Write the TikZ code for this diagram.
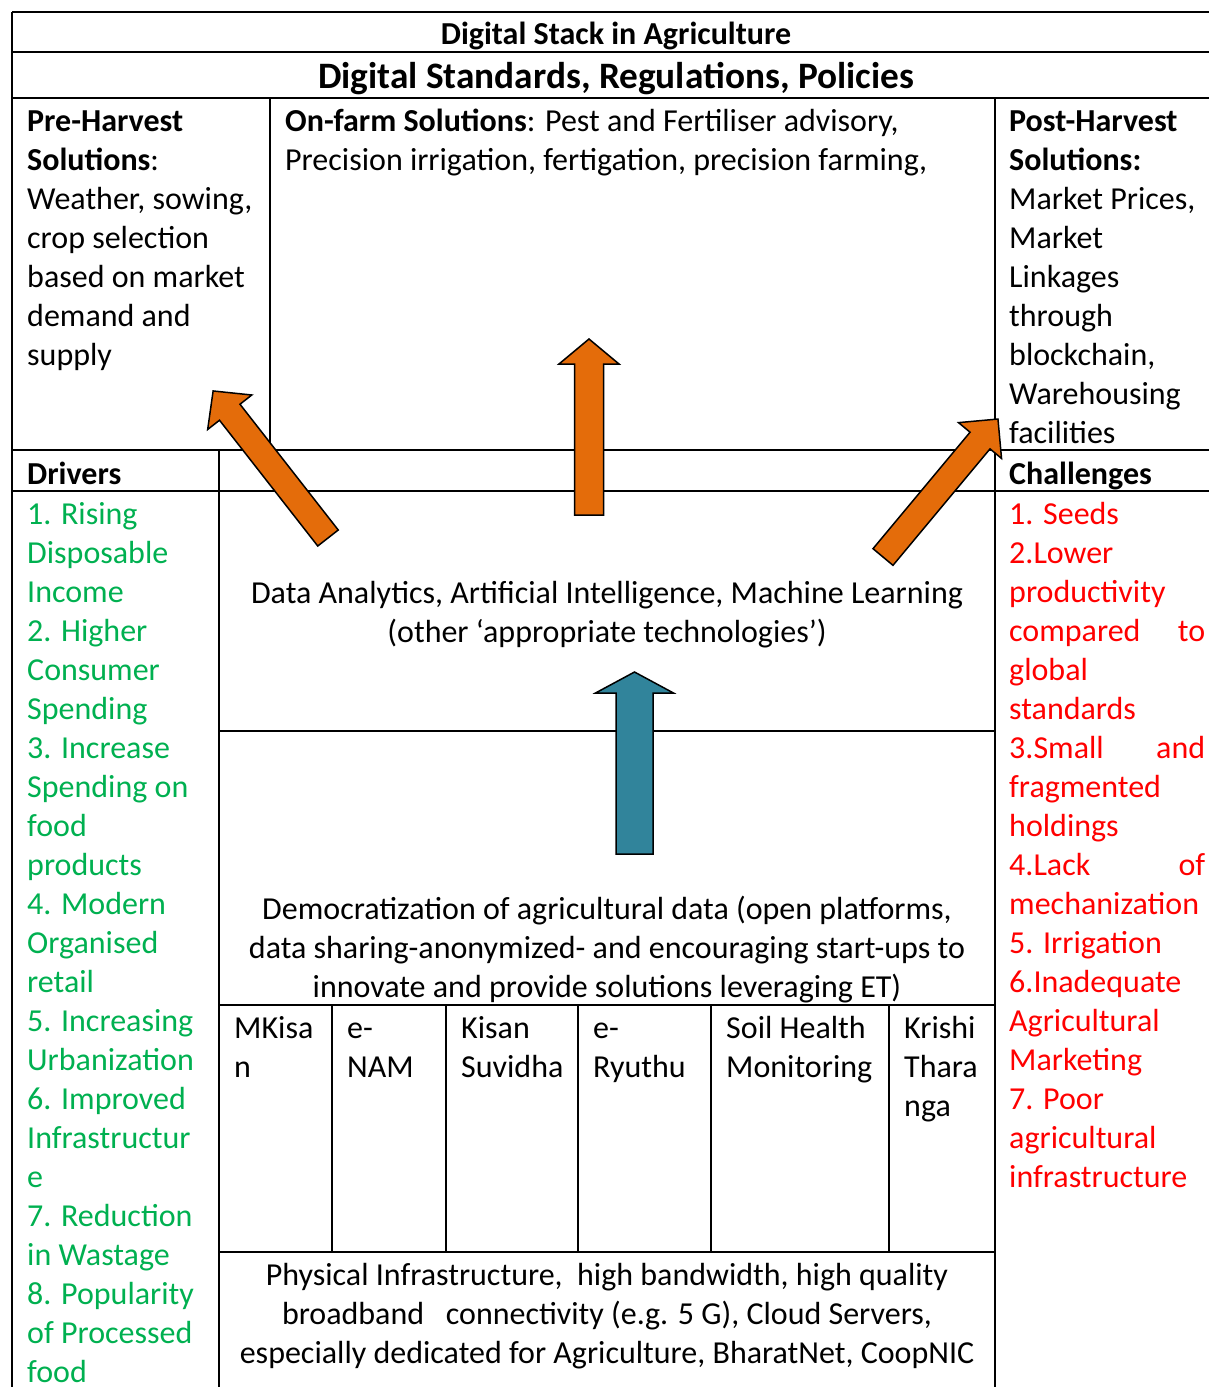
\documentclass[tikz,border=0pt]{standalone}
\usepackage{fontspec}
\setmainfont{Carlito}
\definecolor{drvgreen}{HTML}{00B050}
\definecolor{chred}{HTML}{FF0000}
\definecolor{arrorange}{HTML}{E46C0A}
\definecolor{arrteal}{HTML}{31849B}
\newcommand{\fatarrow}[7]{%
  \draw[#1, shift={#2}, rotate=#3] (0,-#5) -- ({#4-#7},-#5) -- ({#4-#7},-#6) -- (#4,0)
    -- ({#4-#7},#6) -- ({#4-#7},#5) -- (0,#5) -- cycle;}
\tikzset{
  grid/.style={line width=1.8pt, black},
  txt/.style={inner sep=0pt, font=\fontsize{32}{39}\selectfont, align=left, anchor=base west},
  ctxt/.style={inner sep=0pt, font=\fontsize{32}{39}\selectfont, align=center, anchor=base},
  orangearr/.style={fill=arrorange, draw=black, line width=1.5pt, line join=miter},
  tealarr/.style={fill=arrteal, draw=black, line width=1.5pt, line join=miter}
}
\begin{document}
\begin{tikzpicture}[x=1pt,y=-1pt]
\useasboundingbox (0,0) rectangle (1209,1387);
% table lines
\draw[grid] (12,12) -- (1209,12);
\draw[grid] (12,52) -- (1209,52);
\draw[grid] (12,98) -- (1209,98);
\draw[grid] (12,450) -- (1209,450);
\draw[grid] (12,491) -- (1209,491);
\draw[grid] (12,12) -- (12,1387);
\draw[grid] (270,98) -- (270,450);
\draw[grid] (995,98) -- (995,1387);
\draw[grid] (219,450) -- (219,1387);
\draw[grid] (219,731) -- (995,731);
\draw[grid] (219,1005) -- (995,1005);
\draw[grid] (219,1252) -- (995,1252);
\foreach \cx in {332,446,578,711,889} \draw[grid] (\cx,1005) -- (\cx,1252);

% titles (base anchor = baseline of last line)
\node[inner sep=0pt, anchor=base, font=\fontsize{32}{39}\selectfont\bfseries] (title) at (616,44) {Digital Stack in Agriculture};
\node[inner sep=0pt, anchor=base, font=\fontsize{37.3}{45}\selectfont\bfseries] (stds) at (616,88) {Digital Standards, Regulations, Policies};

% top row
\node[txt] (pre) at (27,365) {\textbf{Pre-Harvest}\\\textbf{Solutions}:\\Weather, sowing,\\crop selection\\based on market\\demand and\\supply};
\node[txt] (onfarm) at (285,170) {\textbf{On-farm Solutions}: Pest and Fertiliser advisory,\\Precision irrigation, fertigation, precision farming,};
\node[txt] (post) at (1009,443) {\textbf{Post-Harvest}\\\textbf{Solutions:}\\Market Prices,\\Market\\Linkages\\through\\blockchain,\\Warehousing\\facilities};

% headers
\node[txt, font=\fontsize{32}{39}\selectfont\bfseries] (drivers) at (27,484) {Drivers};
\node[txt, font=\fontsize{32}{39}\selectfont\bfseries] (chall) at (1009,484) {Challenges};

% drivers list
\node[txt, text=drvgreen] (drvlist) at (27,1382) {1. Rising\\Disposable\\Income\\2. Higher\\Consumer\\Spending\\3. Increase\\Spending on\\food\\products\\4. Modern\\Organised\\retail\\5. Increasing\\Urbanization\\6. Improved\\Infrastructur\\e\\7. Reduction\\in Wastage\\8. Popularity\\of Processed\\food};

% challenges list
\node[txt, text=chred] (chlist) at (1009,1187) {1. Seeds\\2.Lower\\productivity\\\makebox[196pt][s]{compared to}\\global\\standards\\\makebox[196pt][s]{3.Small and}\\fragmented\\holdings\\\makebox[196pt][s]{4.Lack of}\\mechanization\\5. Irrigation\\6.Inadequate\\Agricultural\\Marketing\\7. Poor\\agricultural\\infrastructure};

% middle texts
\node[ctxt] (ai) at (607,642) {Data Analytics, Artificial Intelligence, Machine Learning\\(other ‘appropriate technologies’)};
\node[ctxt] (demo) at (607,997) {Democratization of agricultural data (open platforms,\\data sharing-anonymized- and encouraging start-ups to\\innovate and provide solutions leveraging ET)};

% platform cells
\node[txt] (mkisan) at (234,1077) {MKisa\\n};
\node[txt] (enam) at (347,1077) {e-\\NAM};
\node[txt] (kisan) at (461,1077) {Kisan\\Suvidha};
\node[txt] (eryuthu) at (593,1077) {e-\\Ryuthu};
\node[txt] (soil) at (726,1077) {Soil Health\\Monitoring};
\node[txt] (krishi) at (904,1116) {Krishi\\Thara\\nga};

% physical infrastructure
\node[ctxt] (phys) at (607,1363) {Physical Infrastructure,\ \ high bandwidth, high quality\\broadband\ \ \ connectivity (e.g. 5 G), Cloud Servers,\\especially dedicated for Agriculture, BharatNet, CoopNIC};

% arrows
\fatarrow{orangearr}{(328,538)}{128}{186.6}{13}{28}{27}
\fatarrow{orangearr}{(589,515)}{90}{176}{14.5}{30}{25}
\fatarrow{orangearr}{(883,557)}{50.2}{179.6}{13}{28}{28}
\fatarrow{tealarr}{(634.5,854)}{90}{182}{18.5}{39}{21}
\end{tikzpicture}
\end{document}
